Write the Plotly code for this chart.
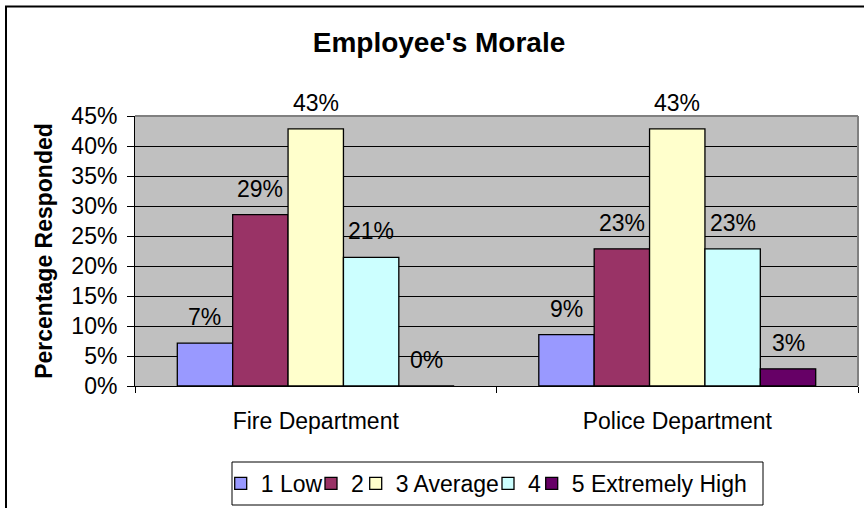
import plotly.graph_objects as go

departments = ["Fire Department", "Police Department"]
series_names = ["1 Low", "2", "3 Average", "4", "5 Extremely High"]
fire_values = [0.0714, 0.2857, 0.4286, 0.2143, 0.0]
police_values = [0.0857, 0.2286, 0.4286, 0.2286, 0.0286]
y_ticks = [0.0, 0.05, 0.10, 0.15, 0.20, 0.25, 0.30, 0.35, 0.40, 0.45]
colors = ["#9999FF", "#993366", "#FFFFCC", "#CCFFFF", "#660066"]

FONT = "Liberation Sans, Arial, sans-serif"
W, H = 864, 508
ML, MR, MT, MB = 135, 6, 116, 122
BARGAP = 0.234

pw = W - ML - MR
ph = H - MT - MB
def px_x(p):
    return (p - ML) / pw
def px_y(p):
    return (H - MB - p) / ph

# legend text start positions (pixels) for each entry
legend_text_x = [260.7, 351, 395.7, 528, 571.7]
legend_keys = ["legend", "legend2", "legend3", "legend4", "legend5"]

fig = go.Figure()
n = len(series_names)
annotations = []
for j, name in enumerate(series_names):
    vals = [fire_values[j], police_values[j]]
    fig.add_trace(go.Bar(
        name=name, x=departments, y=vals, legend=legend_keys[j], showlegend=True,
        marker=dict(color=colors[j], line=dict(color="black", width=1.3)),
    ))
    barw = (1 - BARGAP) / n
    for i, v in enumerate(vals):
        annotations.append(dict(
            x=i + (j - (n - 1) / 2) * barw, y=v, xref="x", yref="y",
            text=f"{v:.0%}", showarrow=False, yshift=26, yanchor="middle",
            font=dict(family=FONT, size=23, color="black"),
        ))

shapes = [
    # plot area border (top and right)
    dict(type="line", xref="paper", yref="paper", x0=0, x1=1, y0=1, y1=1,
         line=dict(color="#808080", width=2), layer="above"),
    dict(type="line", xref="paper", yref="paper", x0=1, x1=1, y0=0, y1=1,
         line=dict(color="#808080", width=2), layer="above"),
    # chart frame
    dict(type="rect", xref="paper", yref="paper",
         x0=px_x(6), x1=px_x(880), y0=px_y(6.5), y1=px_y(530),
         line=dict(color="black", width=2), fillcolor="rgba(0,0,0,0)", layer="above"),
    # legend box
    dict(type="rect", xref="paper", yref="paper",
         x0=px_x(232), x1=px_x(763), y0=px_y(462), y1=px_y(505),
         line=dict(color="black", width=1), fillcolor="white", layer="above"),
]

layout_legends = {}
for j, key in enumerate(legend_keys):
    layout_legends[key] = dict(
        orientation="h", x=px_x(legend_text_x[j] - 40), xanchor="left",
        y=px_y(483.5), yanchor="middle", borderwidth=0,
        bgcolor="rgba(0,0,0,0)", font=dict(size=23), itemclick=False,
        itemdoubleclick=False,
    )

fig.update_layout(
    width=W, height=H,
    showlegend=True,
    margin=dict(l=ML, r=MR, t=MT, b=MB, autoexpand=False),
    paper_bgcolor="white", plot_bgcolor="#C0C0C0",
    barmode="group", bargap=BARGAP, bargroupgap=0,
    font=dict(family=FONT, size=23, color="black"),
    title=dict(text="<b>Employee's Morale</b>", x=439 / W, xanchor="center",
               y=1 - 42 / H, yanchor="middle",
               font=dict(family=FONT, size=28, color="black")),
    xaxis=dict(showline=True, linecolor="black", linewidth=1, automargin=False,
               ticks="outside", tickson="boundaries", ticklen=6, tickcolor="black",
               showgrid=False, tickfont=dict(size=23), ticklabelstandoff=14),
    yaxis=dict(range=[0, 0.45], tickvals=y_ticks, tickformat=".0%", automargin=False,
               showline=True, linecolor="black", linewidth=1,
               ticks="outside", ticklen=7, tickcolor="black",
               showgrid=True, gridcolor="black", gridwidth=1, zeroline=False,
               tickfont=dict(size=23), ticklabelstandoff=5,
               title=dict(text="<b>Percentage Responded</b>", font=dict(size=23),
                          standoff=12)),
    annotations=annotations,
    shapes=shapes,
    **layout_legends,
)

fig.write_html("out.html", config={"displayModeBar": False},
               post_script="document.body.style.margin='0';")
